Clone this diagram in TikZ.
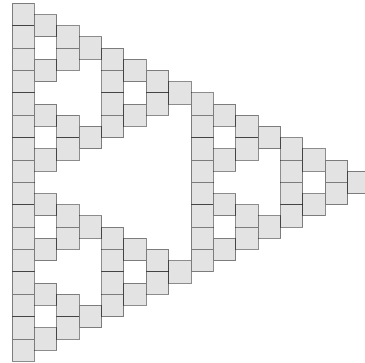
\documentclass[tikz,border=0pt]{standalone}
\usepackage{tikz}

\begin{document}
\begin{tikzpicture}[
		cell/.style={rectangle, draw=black, draw opacity=0.45, line width=0.7pt, fill=gray!22, minimum size=0.6cm, inner sep=0pt}]
		
		% Rahmen
		\clip (-0.322, 0.089) rectangle (9.464, -9.643);
		
		% Spalte k = Zeile 15-k des Pascalschen Dreiecks, Feld nur bei ungeradem Wert
		\foreach \k in {0,...,15} {
			\pgfmathtruncatemacro{\n}{15-\k}
			\foreach \j in {0,...,\n} {
				\pgfmathtruncatemacro{\odd}{(1-mod(\j,2)*(1-mod(\n,2)))*(1-mod(floor(\j/2),2)*(1-mod(floor(\n/2),2)))*(1-mod(floor(\j/4),2)*(1-mod(floor(\n/4),2)))*(1-mod(floor(\j/8),2)*(1-mod(floor(\n/8),2)))}
				\ifnum\odd=1
					\node[cell] (s-\k-\j) at (\k*0.6+0.3, -\k*0.3-\j*0.6-0.3) {};
				\fi
			}
		}
		
	\end{tikzpicture}
\end{document}
